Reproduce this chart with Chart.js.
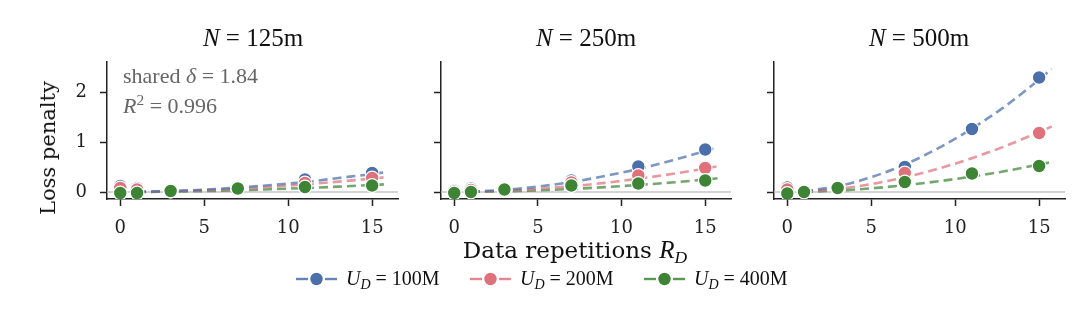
<!DOCTYPE html>
<html><head><meta charset="utf-8">
<script src="https://cdn.jsdelivr.net/npm/chart.js@4/dist/chart.umd.min.js"></script>
<style>
body{margin:0;width:1080px;height:312px;background:#fff;position:relative;overflow:hidden;font-family:'DejaVu Serif',serif;color:#111;}
canvas{position:absolute;top:0;}
.title{position:absolute;top:24px;font-family:'Liberation Serif',serif;font-size:25px;transform:translateX(-50%);white-space:nowrap;}
.ann{position:absolute;left:123px;font-family:'Liberation Serif',serif;font-size:22px;color:#666;white-space:nowrap;}
.xl{position:absolute;top:236px;left:575px;transform:translateX(-50%);font-size:23px;white-space:nowrap;}
.yl{position:absolute;left:48px;top:148px;transform:translate(-50%,-50%) rotate(-90deg);font-size:21px;white-space:nowrap;}
.leg{position:absolute;top:267px;display:flex;align-items:center;white-space:nowrap;font-family:'Liberation Serif',serif;font-size:20px;}
.leg svg{margin-right:8px;}
i{font-style:italic;}
sub{font-size:70%;vertical-align:-0.3em;line-height:0;}
sup{font-size:70%;vertical-align:0.5em;line-height:0;}
</style></head><body>
<canvas id="c1" width="410" height="245" style="left:0px"></canvas>
<canvas id="c2" width="320" height="245" style="left:420px"></canvas>
<canvas id="c3" width="320" height="245" style="left:753px"></canvas>

<div class="title" style="left:253px"><i>N</i> = 125m</div>
<div class="title" style="left:586px"><i>N</i> = 250m</div>
<div class="title" style="left:919px"><i>N</i> = 500m</div>
<div class="ann" style="top:63px">shared <i>δ</i> = 1.84</div>
<div class="ann" style="top:93px"><i>R</i><sup>2</sup> = 0.996</div>
<div class="yl">Loss penalty</div>
<div class="xl">Data repetitions <i style="font-family:'Liberation Serif',serif;font-size:25px">R<sub>D</sub></i></div>
<div id="legend"></div>

<script>
// ---- data ----
const panelTitles = ['N = 125m', 'N = 250m', 'N = 500m'];
const seriesLabels = ['U_D = 100M', 'U_D = 200M', 'U_D = 400M'];
const repetitions = [0, 1, 3, 7, 11, 15];
const xTickValues = [0, 5, 10, 15];
const yTickValues = [0, 1, 2];

// measured points (loss penalty) per panel
const n125_u100 = [0.12, 0.08, 0.03, 0.10, 0.25, 0.38];
const n125_u200 = [0.08, 0.05, 0.02, 0.08, 0.18, 0.28];
const n125_u400 = [-0.02, -0.02, 0.02, 0.07, 0.10, 0.13];

const n250_u100 = [0.03, 0.07, 0.05, 0.23, 0.51, 0.85];
const n250_u200 = [0.01, 0.04, 0.04, 0.19, 0.33, 0.48];
const n250_u400 = [-0.02, 0.00, 0.05, 0.13, 0.17, 0.23];

const n500_u100 = [0.09, 0.02, 0.08, 0.50, 1.26, 2.29];
const n500_u200 = [0.05, 0.01, 0.07, 0.38, null, 1.18];
const n500_u400 = [-0.03, 0.00, 0.08, 0.20, 0.37, 0.52];

// fitted curves (dashed)
const fitX = [1, 3, 5, 7, 9, 11, 13, 15, 15.75];
const n125_fit100 = [0.003, 0.019, 0.047, 0.088, 0.14, 0.20, 0.28, 0.36, 0.395];
const n125_fit200 = [0.002, 0.014, 0.036, 0.066, 0.105, 0.152, 0.207, 0.27, 0.295];
const n125_fit400 = [0.001, 0.007, 0.018, 0.034, 0.055, 0.079, 0.107, 0.14, 0.153];

const n250_fit100 = [0.006, 0.042, 0.108, 0.20, 0.32, 0.46, 0.63, 0.82, 0.90];
const n250_fit200 = [0.003, 0.024, 0.062, 0.115, 0.183, 0.265, 0.36, 0.47, 0.515];
const n250_fit400 = [0.002, 0.013, 0.033, 0.061, 0.097, 0.141, 0.19, 0.25, 0.274];

const n500_fit100 = [0.015, 0.116, 0.297, 0.55, 0.877, 1.27, 1.72, 2.25, 2.46];
const n500_fit200 = [0.008, 0.062, 0.158, 0.294, 0.468, 0.677, 0.92, 1.20, 1.31];
const n500_fit400 = [0.004, 0.028, 0.073, 0.135, 0.214, 0.31, 0.42, 0.55, 0.60];

const colors = ['#4a6fab', '#df717a', '#3d8535'];
const lineColors = ['rgba(74,111,171,0.72)', 'rgba(223,113,122,0.72)', 'rgba(61,133,53,0.72)'];

const panels = [
  {id:'c1', pts:[n125_u100,n125_u200,n125_u400], fits:[n125_fit100,n125_fit200,n125_fit400], yW:107, padR:12, labels:true},
  {id:'c2', pts:[n250_u100,n250_u200,n250_u400], fits:[n250_fit100,n250_fit200,n250_fit400], yW:21, padR:9, labels:false},
  {id:'c3', pts:[n500_u100,n500_u200,n500_u400], fits:[n500_fit100,n500_fit200,n500_fit400], yW:21, padR:8, labels:false},
];

const zeroLine = {
  id:'zeroLine',
  beforeDatasetsDraw(chart){
    const {ctx, chartArea:a, scales:{y}} = chart;
    const py = y.getPixelForValue(0);
    ctx.save();
    ctx.strokeStyle = '#c4c4c4';
    ctx.lineWidth = 1.6;
    ctx.beginPath(); ctx.moveTo(a.left, py); ctx.lineTo(a.right, py); ctx.stroke();
    ctx.restore();
  }
};

Chart.defaults.font.family = "'DejaVu Serif', serif";
Chart.defaults.color = '#222';

panels.forEach(p => {
  const datasets = [];
  p.fits.forEach((f, i) => {
    datasets.push({
      data: fitX.map((x, k) => ({x, y: f[k]})),
      showLine: true, pointRadius: 0, borderColor: lineColors[i], borderWidth: 2.6,
      borderDash: [9, 5], cubicInterpolationMode: 'monotone', order: 10 + i
    });
  });
  p.pts.forEach((s, i) => {
    datasets.push({
      data: repetitions.map((x, k) => ({x, y: s[k]})),
      showLine: false, pointRadius: 6.8, pointBackgroundColor: colors[i],
      pointBorderColor: '#ffffff', pointBorderWidth: 1.2, order: 2 - i
    });
  });
  new Chart(document.getElementById(p.id), {
    type: 'scatter',
    data: {datasets},
    plugins: [zeroLine],
    options: {
      responsive: false, animation: false, devicePixelRatio: 1,
      layout: {padding: {top: 62, right: p.padR, left: 0, bottom: 0}},
      plugins: {legend: {display: false}, tooltip: {enabled: false}},
      scales: {
        x: {
          type: 'linear', min: -0.79, max: 16.54,
          afterBuildTicks: s => { s.ticks = xTickValues.map(v => ({value: v})); },
          afterFit: s => { s.height = 46; },
          ticks: {font: {size: 18}, color: '#222', padding: 12},
          grid: {drawOnChartArea: false, drawTicks: true, tickLength: 7, tickWidth: 1.5, tickColor: '#222'},
          border: {display: true, color: '#222', width: 1.5}
        },
        y: {
          type: 'linear', min: -0.14, max: 2.6,
          afterBuildTicks: s => { s.ticks = yTickValues.map(v => ({value: v})); },
          afterFit: s => { s.width = p.yW; },
          ticks: {display: p.labels, font: {size: 18}, color: '#222', padding: 13},
          grid: {drawOnChartArea: false, drawTicks: true, tickLength: 7, tickWidth: 1.5, tickColor: '#222'},
          border: {display: true, color: '#222', width: 1.5}
        }
      }
    }
  });
});

// legend (HTML)
const legendX = [296, 470, 644];
const legendEl = document.getElementById('legend');
seriesLabels.forEach((lab, i) => {
  const d = document.createElement('div');
  d.className = 'leg';
  d.style.left = legendX[i] + 'px';
  const m = lab.match(/^U_D = (.*)$/);
  d.innerHTML = `<svg width="42" height="16"><line x1="0" y1="8" x2="12" y2="8" stroke="${colors[i]}" stroke-width="2.4" opacity="0.85"/><line x1="29" y1="8" x2="41" y2="8" stroke="${colors[i]}" stroke-width="2.4" opacity="0.85"/><circle cx="20.5" cy="8" r="6.8" fill="${colors[i]}" stroke="#fff" stroke-width="1.2"/></svg><span><i>U</i><sub><i>D</i></sub> = ${m[1]}</span>`;
  legendEl.appendChild(d);
});
</script>
</body></html>
